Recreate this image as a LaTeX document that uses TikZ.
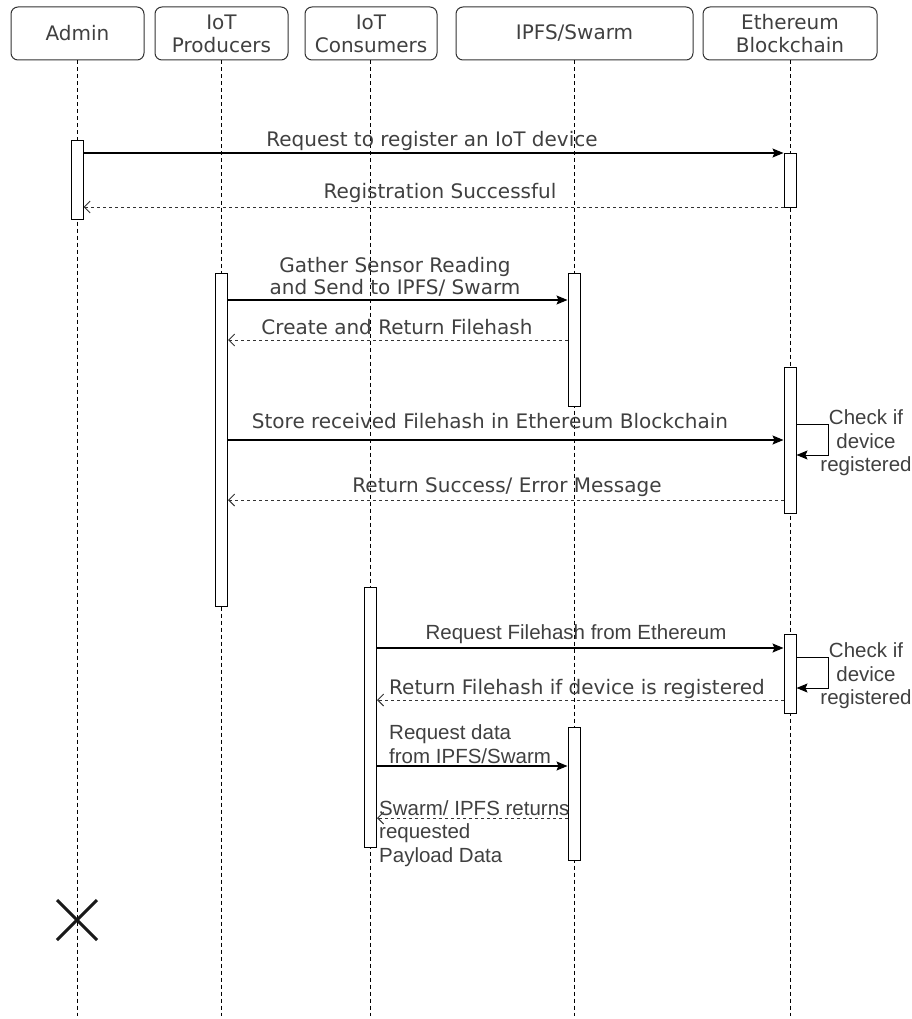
\documentclass[tikz,border=0pt]{standalone}
\usepackage{fontspec}
\setmainfont{DejaVu Sans}
\newfontfamily\arialf{Liberation Sans}
\usetikzlibrary{arrows.meta,calc}
\begin{document}
\begin{tikzpicture}[x=1pt,y=-1pt,
  head/.style={draw=black!80,line width=1pt,rounded corners=7pt,minimum height=53pt,inner sep=0pt,align=center,font=\fontsize{20}{23}\selectfont,text=black!75},
  life/.style={draw=black,line width=1pt,dash pattern=on 4pt off 3pt},
  act/.style={draw=black,line width=1pt,fill=white,minimum width=12pt,inner sep=0pt,anchor=north},
  msg/.style={draw=black,line width=1.2pt,-{Stealth[length=11pt,width=9pt,inset=2pt]}},
  ret/.style={draw=black!80,line width=1pt,dash pattern=on 3pt off 3pt,-{Straight Barb[length=6pt,width=12pt,line width=0.9pt]}},
  lbl/.style={text=black!75,inner sep=0pt,font=\fontsize{20}{22}\selectfont},
  albl/.style={text=black!75,inner sep=0pt,font=\arialf\fontsize{20.5}{23.5}\selectfont},
]
\useasboundingbox (0,0) rectangle (912,1019);
% headers
\node[head,minimum width=133pt] (hA) at (77.5,33.5) {Admin};
\node[head,minimum width=133pt] (hP) at (221.5,33.5) {IoT\\Producers};
\node[head,minimum width=132pt] (hC) at (371,33.5) {IoT\\Consumers};
\node[head,minimum width=237pt] (hI) at (574.5,33.5) {IPFS/Swarm};
\node[head,minimum width=174pt] (hE) at (790,33.5) {Ethereum\\Blockchain};
% lifeline ends
\coordinate (eA) at (77,1016);
\coordinate (eP) at (221,1016);
\coordinate (eC) at (370,1016);
\coordinate (eI) at (574,1016);
\coordinate (eE) at (790,1016);
\draw[life] (hA.south -| eA) -- (eA);
\draw[life] (hP.south -| eP) -- (eP);
\draw[life] (hC.south -| eC) -- (eC);
\draw[life] (hI.south -| eI) -- (eI);
\draw[life] (hE.south -| eE) -- (eE);
% activations
\node[act,minimum height=79pt] (aA) at (77,140) {};
\node[act,minimum height=54pt] (aE1) at (790,153) {};
\node[act,minimum height=333pt] (aP) at (221.5,273) {};
\node[act,minimum height=133pt] (aI1) at (574,273) {};
\node[act,minimum height=146pt] (aE2) at (790,367) {};
\node[act,minimum height=260pt] (aC) at (370.5,587) {};
\node[act,minimum height=79pt] (aE3) at (790,634) {};
\node[act,minimum height=133pt] (aI2) at (574,727) {};
% messages
\draw[msg] (aA.east |- 0,153) -- (aE1.west |- 0,153);
\node[lbl] (l1) at (432,141) {Request to register an IoT device};
\draw[ret] (aE1.west |- 0,207) -- (aA.east |- 0,207);
\node[lbl] (l2) at (440,193) {Registration Successful};

\draw[msg] (aP.east |- 0,300) -- (aI1.west |- 0,300);
\node[lbl,align=center] (l3) at (395,277) {Gather Sensor Reading\\and Send to IPFS/ Swarm};
\draw[ret] (aI1.west |- 0,340) -- (aP.east |- 0,340);
\node[lbl] (l4) at (397,327) {Create and Return Filehash};

\draw[msg] (aP.east |- 0,440) -- (aE2.west |- 0,440);
\node[lbl] (l5) at (490,421) {Store received Filehash in Ethereum Blockchain};
\coordinate (s1a) at (828,424);
\coordinate (s1b) at (828,455);
\draw[msg,line width=1pt] (aE2.east |- s1a) -- (s1a) -- (s1b) -- (aE2.east |- s1b);
\node[albl,align=center] (l6) at (866,443) {Check if\\device\\registered};
\draw[ret] (aE2.west |- 0,500) -- (aP.east |- 0,500);
\node[lbl] (l7) at (507,487) {Return Success/ Error Message};

\draw[msg] (aC.east |- 0,648) -- (aE3.west |- 0,648);
\node[albl] (l8) at (576,634) {Request Filehash from Ethereum};
\coordinate (s2a) at (828,657);
\coordinate (s2b) at (828,688);
\draw[msg,line width=1pt] (aE3.east |- s2a) -- (s2a) -- (s2b) -- (aE3.east |- s2b);
\node[albl,align=center] (l9) at (866,676) {Check if\\device\\registered};
\draw[ret] (aE3.west |- 0,700) -- (aC.east |- 0,700);
\node[lbl] (l10) at (577,689) {Return Filehash if device is registered};

\draw[msg] (aC.east |- 0,766) -- (aI2.west |- 0,766);
\node[albl,align=left,anchor=west] (l11) at (389,744) {Request data\\from IPFS/Swarm};
\draw[ret] (aI2.west |- 0,818) -- (aC.east |- 0,818);
\node[albl,align=left,anchor=north west] (l12) at (379,800) {Swarm/ IPFS returns\\requested\\Payload Data};
% destruction
\coordinate (xA) at (77,920);
\draw[line width=3pt,black!90] ($(xA)+(-20,-20)$) -- ($(xA)+(20,20)$);
\draw[line width=3pt,black!90] ($(xA)+(-20,20)$) -- ($(xA)+(20,-20)$);
\end{tikzpicture}
\end{document}
